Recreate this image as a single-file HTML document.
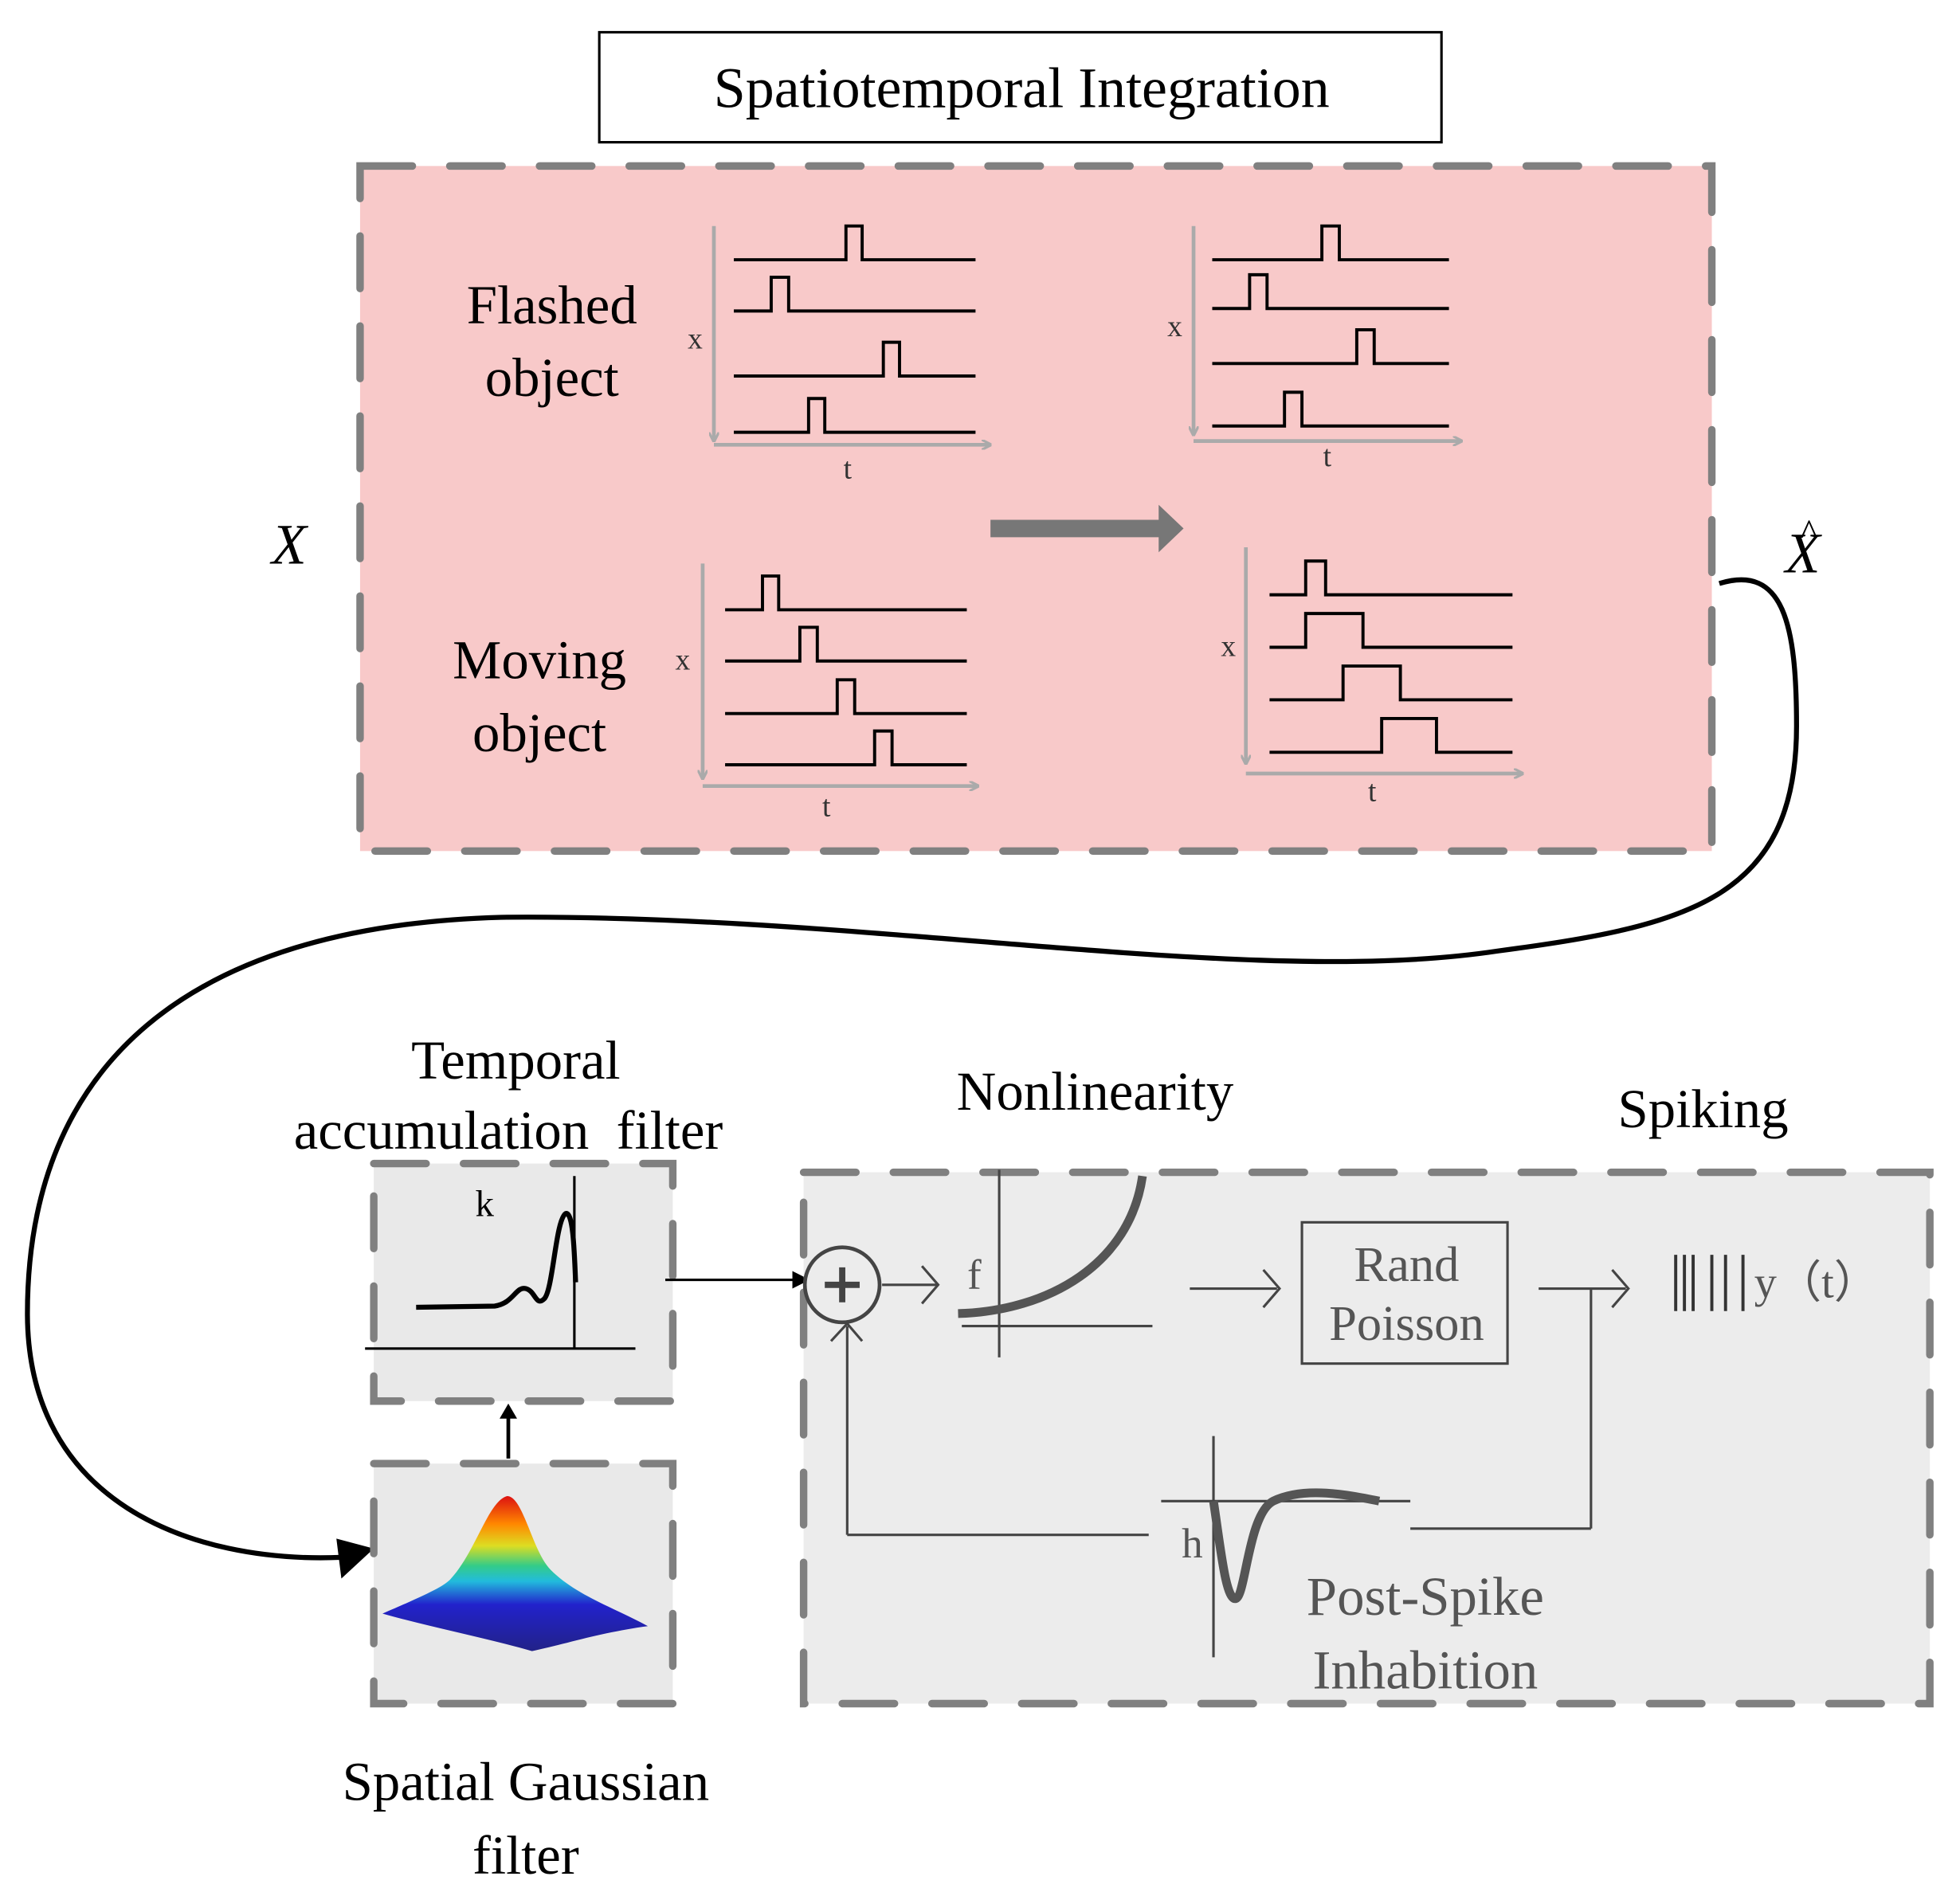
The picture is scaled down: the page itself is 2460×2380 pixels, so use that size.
<!DOCTYPE html>
<html><head><meta charset="utf-8"><style>html,body{margin:0;padding:0;background:#fff}svg{display:block}</style></head>
<body>
<svg width="2460" height="2380" viewBox="0 0 1560 1509" xmlns="http://www.w3.org/2000/svg" font-family="Liberation Serif, serif">
<defs>
<marker id="ga" markerWidth="8" markerHeight="8" refX="7" refY="4" orient="auto" markerUnits="userSpaceOnUse"><path d="M0,0 L8,4 L0,8" fill="none" stroke="#aaa" stroke-width="2"/></marker>
<linearGradient id="gg" x1="0" y1="0" x2="0" y2="1"><stop offset="0" stop-color="#d11"/><stop offset="0.18" stop-color="#f80"/><stop offset="0.32" stop-color="#dd2"/><stop offset="0.45" stop-color="#3c8"/><stop offset="0.55" stop-color="#2bd"/><stop offset="0.7" stop-color="#22c"/><stop offset="1" stop-color="#228"/></linearGradient>
</defs>
<g transform="matrix(0.9916,0,0,0.9951,2,0.65)">
<rect x="479" y="25" width="676" height="88" fill="#fff" stroke="#000" stroke-width="2"/>
<text x="818" y="85" font-size="46" text-anchor="middle">Spatiotemporal Integration</text>
<rect x="287" y="132" width="1085" height="548" fill="#f8c9c9" stroke="#808080" stroke-width="6" stroke-dasharray="42,30" stroke-linecap="round"/>
<text x="441" y="258" font-size="44" text-anchor="middle">Flashed</text>
<text x="441" y="316" font-size="44" text-anchor="middle">object</text>
<text x="431" y="542" font-size="44" text-anchor="middle">Moving</text>
<text x="431" y="600" font-size="44" text-anchor="middle">object</text>
<g stroke="#aaa" stroke-width="3" fill="none">
<line x1="571" y1="180" x2="571" y2="352" marker-end="url(#ga)"/><line x1="571" y1="355" x2="793" y2="355" marker-end="url(#ga)"/>
<line x1="956" y1="180" x2="956" y2="347" marker-end="url(#ga)"/><line x1="956" y1="352" x2="1171" y2="352" marker-end="url(#ga)"/>
<line x1="562" y1="450" x2="562" y2="622" marker-end="url(#ga)"/><line x1="562" y1="628" x2="783" y2="628" marker-end="url(#ga)"/>
<line x1="998" y1="437" x2="998" y2="610" marker-end="url(#ga)"/><line x1="998" y1="618" x2="1220" y2="618" marker-end="url(#ga)"/>
</g>
<g stroke="#000" stroke-width="2.5" fill="none">
<path d="M587,207H677V180H690V207H781"/><path d="M587,248H617V221H631V248H781"/><path d="M587,300H707V273H720V300H781"/><path d="M587,345H647V318H660V345H781"/>
<path d="M971,207H1059V180H1073V207H1161"/><path d="M971,246H1001V219H1015V246H1161"/><path d="M971,290H1087V263H1101V290H1161"/><path d="M971,340H1029V313H1043V340H1161"/>
<path d="M580,487H610V460H623V487H774"/><path d="M580,528H640V501H654V528H774"/><path d="M580,570H670V543H684V570H774"/><path d="M580,611H700V584H714V611H774"/>
<path d="M1017,475H1046V448H1062V475H1212"/><path d="M1017,517H1046V490H1092V517H1212"/><path d="M1017,559H1076V532H1122V559H1212"/><path d="M1017,601H1107V574H1151V601H1212"/>
</g>
<g font-size="24" fill="#333"><text x="550" y="278">x</text><text x="675" y="382">t</text><text x="935" y="268">x</text><text x="1060" y="372">t</text><text x="540" y="535">x</text><text x="658" y="652">t</text><text x="978" y="524">x</text><text x="1096" y="640">t</text></g>
<path d="M793,415H928V403L948,422L928,441V429H793Z" fill="#777"/>
<text x="230" y="450" font-size="46" font-style="italic" text-anchor="middle">X</text>
<text x="1445" y="457" font-size="46" font-style="italic" text-anchor="middle">X</text>
<text x="1450" y="435" font-size="30" text-anchor="middle">^</text>
<path d="M1378,466 C1430,450 1440,500 1440,580 C1440,720 1350,740 1200,760 C1000,790 700,730 400,733 C150,740 20,850 20,1050 C20,1200 150,1250 272,1245" fill="none" stroke="#000" stroke-width="4"/>
<path d="M298,1238 L268,1230 L272,1262 Z" fill="#000"/>
<text x="412" y="862" font-size="44" text-anchor="middle">Temporal</text>
<text x="406" y="918" font-size="44" text-anchor="middle" xml:space="preserve">accumulation  filter</text>
<rect x="298" y="930" width="240" height="190" fill="#e9e9e9" stroke="#808080" stroke-width="6" stroke-dasharray="42,30" stroke-linecap="round"/>
<text x="387" y="972" font-size="30" text-anchor="middle">k</text>
<line x1="291" y1="1078" x2="508" y2="1078" stroke="#000" stroke-width="2"/>
<line x1="459" y1="940" x2="459" y2="1078" stroke="#000" stroke-width="2"/>
<path d="M332,1045 L395,1044 C410,1042 412,1028 420,1030 C428,1032 428,1045 435,1038 C442,1030 444,975 452,970 C458,968 459,1000 460,1025" fill="none" stroke="#000" stroke-width="4"/>
<line x1="406" y1="1166" x2="406" y2="1132" stroke="#000" stroke-width="3"/><path d="M399,1134 L406,1122 L413,1134Z" fill="#000"/>
<rect x="298" y="1170" width="240" height="192" fill="#e9e9e9" stroke="#808080" stroke-width="6" stroke-dasharray="42,30" stroke-linecap="round"/>
<path d="M305,1290 C340,1275 355,1268 360,1262 C380,1240 390,1200 405,1196 C418,1196 425,1240 440,1255 C460,1275 490,1285 518,1300 C480,1305 450,1315 425,1320 C390,1310 340,1300 305,1290Z" fill="url(#gg)"/>
<text x="420" y="1439" font-size="44" text-anchor="middle">Spatial Gaussian</text>
<text x="420" y="1498" font-size="44" text-anchor="middle">filter</text>
<line x1="532" y1="1023" x2="636" y2="1023" stroke="#000" stroke-width="2"/><path d="M634,1016 L648,1023 L634,1030Z" fill="#000"/>
<rect x="643" y="937" width="904" height="425" fill="#ececec" stroke="#808080" stroke-width="6" stroke-dasharray="42,30" stroke-linecap="round"/>
<text x="877" y="887" font-size="44" text-anchor="middle">Nonlinearity</text>
<text x="1365" y="901" font-size="44" text-anchor="middle">Spiking</text>
<g stroke="#444" fill="none" stroke-width="2">
<circle cx="674" cy="1027" r="30" stroke-width="3"/><line x1="660" y1="1027" x2="688" y2="1027" stroke-width="5"/><line x1="674" y1="1013" x2="674" y2="1041" stroke-width="5"/>
<line x1="706" y1="1027" x2="750" y2="1027"/><path d="M738,1012 L751,1027 L738,1042"/>
<line x1="800" y1="935" x2="800" y2="1085"/><line x1="770" y1="1060" x2="923" y2="1060"/>
<path d="M767,1050 C840,1048 905,1010 915,940" stroke="#555" stroke-width="7"/>
<line x1="953" y1="1030" x2="1023" y2="1030"/><path d="M1012,1015 L1025,1030 L1012,1045"/>
<rect x="1043" y="977" width="165" height="113"/>
<line x1="1233" y1="1030" x2="1303" y2="1030"/><path d="M1292,1015 L1305,1030 L1292,1045"/>
<line x1="1275" y1="1030" x2="1275" y2="1222"/><line x1="1130" y1="1222" x2="1275" y2="1222"/>
<line x1="920" y1="1227" x2="678" y2="1227"/><line x1="678" y1="1227" x2="678" y2="1060"/><path d="M665,1072 L678,1058 L690,1072"/>
<line x1="972" y1="1148" x2="972" y2="1325"/><line x1="930" y1="1200" x2="1130" y2="1200"/>
<path d="M972,1200 C978,1240 982,1280 990,1278 C998,1275 1000,1210 1020,1200 C1045,1188 1080,1195 1105,1200" stroke="#555" stroke-width="7"/>
<g stroke="#333" stroke-width="2.5"><line x1="1343" y1="1003" x2="1343" y2="1048"/><line x1="1350" y1="1003" x2="1350" y2="1048"/><line x1="1357" y1="1003" x2="1357" y2="1048"/><line x1="1372" y1="1003" x2="1372" y2="1048"/><line x1="1383" y1="1003" x2="1383" y2="1048"/><line x1="1397" y1="1003" x2="1397" y2="1048"/></g>
</g>
<g fill="#555" font-size="40" text-anchor="middle">
<text x="780" y="1030" font-size="34">f</text>
<text x="1127" y="1024">Rand</text><text x="1127" y="1071">Poisson</text>
<text x="955" y="1245" font-size="34">h</text>
<text x="1142" y="1291" font-size="44">Post-Spike</text><text x="1142" y="1350" font-size="44">Inhabition</text>
<text x="1456" y="1037" font-size="36">y（t）</text>
</g>
</g>
</svg>
</body></html>
